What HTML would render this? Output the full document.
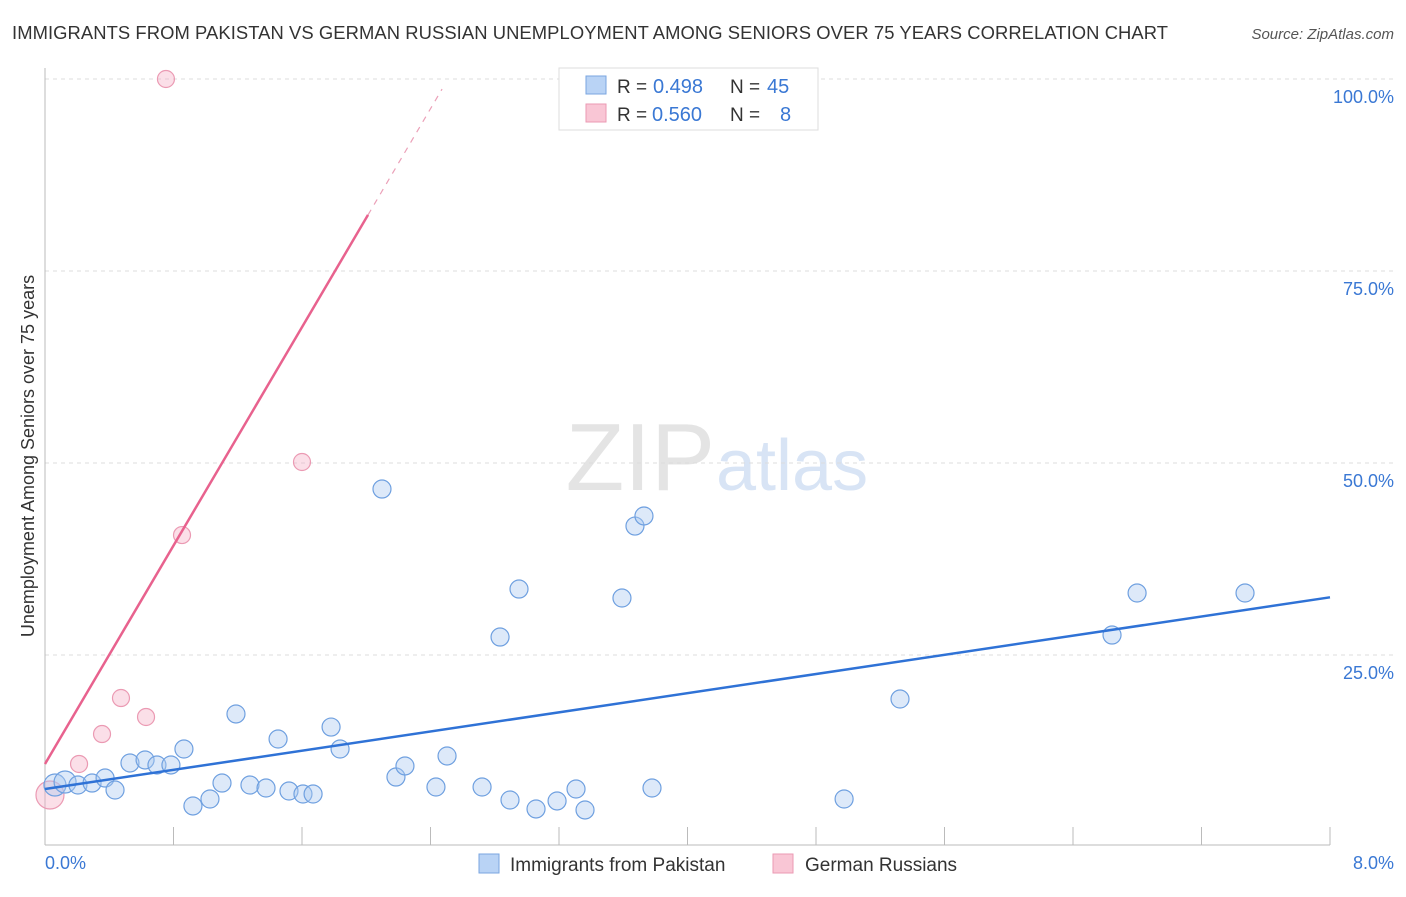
<!DOCTYPE html>
<html><head><meta charset="utf-8"><style>
body{margin:0;background:#fff;font-family:"Liberation Sans",sans-serif;}
svg text{font-family:"Liberation Sans",sans-serif;}
</style></head><body>
<svg id="chart" width="1406" height="892">
<text x="12" y="39" font-size="18.4" fill="#333" textLength="1156">IMMIGRANTS FROM PAKISTAN VS GERMAN RUSSIAN UNEMPLOYMENT AMONG SENIORS OVER 75 YEARS CORRELATION CHART</text>
<text x="1394" y="39" font-size="15" fill="#555" font-style="italic" text-anchor="end">Source: ZipAtlas.com</text>
<text x="715" y="490" font-size="96" fill="#e4e4e4" text-anchor="end" font-family="Liberation Serif">ZIP</text>
<text x="716" y="490" font-size="72" fill="#d8e4f5">atlas</text>
<g id="grid"></g><g id="marks"></g>
<text transform="translate(34,456) rotate(-90)" font-size="18" fill="#333" text-anchor="middle">Unemployment Among Seniors over 75 years</text>
<text x="45" y="869" font-size="18" fill="#3a78d4">0.0%</text>
<text x="1394" y="869" font-size="18" fill="#3a78d4" text-anchor="end">8.0%</text>
<g>
<rect x="559" y="68" width="259" height="62" fill="#fff" stroke="#ddd"/>
<rect x="586" y="76" width="20" height="18" fill="#b9d3f5" stroke="#7aa6e0"/>
<rect x="586" y="104" width="20" height="18" fill="#f9c6d5" stroke="#eb9ab3"/>
<text x="617" y="93" font-size="19" fill="#333">R =</text>
<text x="653" y="93" font-size="20" fill="#3a78d4">0.498</text>
<text x="730" y="93" font-size="19" fill="#333">N =</text>
<text x="767" y="93" font-size="20" fill="#3a78d4">45</text>
<text x="617" y="121" font-size="19" fill="#333">R =</text>
<text x="652" y="121" font-size="20" fill="#3a78d4">0.560</text>
<text x="730" y="121" font-size="19" fill="#333">N =</text>
<text x="780" y="121" font-size="20" fill="#3a78d4">8</text>
</g>
<g>
<rect x="479" y="854" width="20" height="19" fill="#b9d3f5" stroke="#7aa6e0"/>
<text x="510" y="871" font-size="19" fill="#333">Immigrants from Pakistan</text>
<rect x="773" y="854" width="20" height="19" fill="#f9c6d5" stroke="#eb9ab3"/>
<text x="805" y="871" font-size="19" fill="#333">German Russians</text>
</g>
</svg>
<script>
const yTicks=[25,50,75,100];
const yTickLabels=["25.0%","50.0%","75.0%","100.0%"];
const xTicks=[0.8,1.6,2.4,3.2,4.0,4.8,5.6,6.4,7.2,8.0];
const blueX=[.062,.125,.205,.293,.374,.436,.529,.623,.697,.784,.865,.921,1.027,1.102,1.189,1.276,1.376,1.451,1.519,1.606,1.669,1.781,1.837,2.098,2.185,2.241,2.434,2.503,2.721,2.833,2.895,2.951,3.057,3.188,3.306,3.362,3.592,3.673,3.729,3.779,4.975,5.323,6.643,6.799,7.471];
const blueY=[8.07,8.46,8.07,8.33,8.98,7.42,10.94,11.33,10.68,10.68,12.76,5.34,6.25,8.33,17.32,8.07,7.68,14.06,7.29,6.90,6.90,15.62,12.76,46.61,9.11,10.55,7.81,11.85,7.81,27.34,6.12,33.59,4.95,5.99,7.55,4.82,32.42,41.79,43.10,7.68,6.25,19.27,27.60,33.07,33.07];
const pinkX=[.031,.212,.355,.473,.629,.853,1.600,.753];
const pinkY=[6.77,10.81,14.71,19.40,16.93,40.62,50.13,100];
const blueTrend=[7.55,3.12];
const pinkTrend=[10.81,35.55];
const pinkSolidEnd=2.011, pinkDashEnd=2.472;
const X=v=>45+v/8*1285, Y=v=>847-v/100*768;
const NS="http://www.w3.org/2000/svg";
const grid=document.getElementById('grid'), marks=document.getElementById('marks');
function mk(tag,attrs,parent){const e=document.createElementNS(NS,tag);for(const k in attrs)e.setAttribute(k,attrs[k]);parent.appendChild(e);return e;}
yTicks.forEach((t,i)=>{
 const l=mk('line',{x1:45,x2:1394,y1:Y(t),y2:Y(t),stroke:'#ddd','stroke-dasharray':'4,4'},grid);
 
 
 const tx=mk('text',{x:1394,y:Y(t)+24,'font-size':18,fill:'#3a78d4','text-anchor':'end'},grid);
 tx.textContent=yTickLabels[i];
 
 
});
const ax=mk('line',{x1:45,x2:1330,y1:845,y2:845,stroke:'#bbb'},grid);


const ay=mk('line',{x1:45,x2:45,y1:68,y2:845,stroke:'#bbb'},grid);


xTicks.forEach(t=>{
 const l=mk('line',{x1:X(t),x2:X(t),y1:827,y2:845,stroke:'#bbb'},grid);
 
 
});
function pt(x,y,r,fill,stroke,name){
 const c=mk('circle',{cx:X(x),cy:Y(y),r:r,fill:fill,stroke:stroke,'stroke-width':1.2},marks);
 
 
}
pinkX.forEach((x,i)=>pt(x,pinkY[i],i===0?14:8.5,'rgba(246,176,198,0.4)','#eb9ab3','pink-point'));
blueX.forEach((x,i)=>pt(x,blueY[i],i<2?11:9,'rgba(169,200,240,0.4)','#6fa0e0','blue-point'));
const bl=mk('line',{x1:X(0),y1:Y(blueTrend[0]),x2:X(8),y2:Y(blueTrend[0]+8*blueTrend[1]),stroke:'#2f72d6','stroke-width':2.5},marks);


const pl=mk('line',{x1:X(0),y1:Y(pinkTrend[0]),x2:X(pinkSolidEnd),y2:Y(pinkTrend[0]+pinkSolidEnd*pinkTrend[1]),stroke:'#e8628e','stroke-width':2.5},marks);


const pd=mk('line',{x1:X(pinkSolidEnd),y1:Y(pinkTrend[0]+pinkSolidEnd*pinkTrend[1]),x2:X(pinkDashEnd),y2:Y(pinkTrend[0]+pinkDashEnd*pinkTrend[1]),stroke:'#eba0b8','stroke-width':1.2,'stroke-dasharray':'6,6'},marks);


</script>
</body></html>
